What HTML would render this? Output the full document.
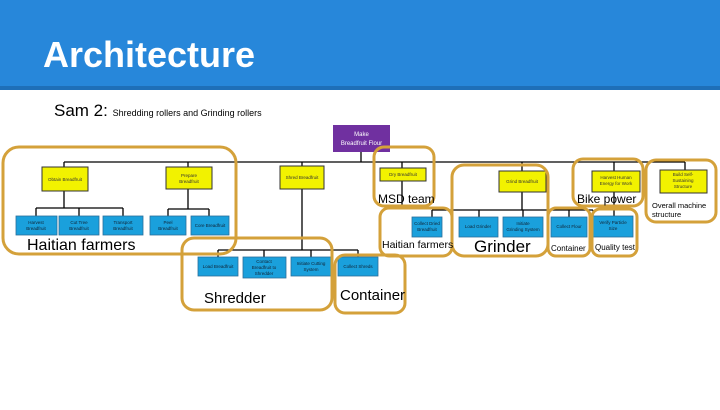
<!DOCTYPE html>
<html><head><meta charset="utf-8"><style>
body{margin:0;width:720px;height:405px;overflow:hidden;background:#fff;font-family:"Liberation Sans",sans-serif;}
</style></head><body>
<svg width="720" height="405" xmlns="http://www.w3.org/2000/svg" font-family="Liberation Sans, sans-serif">
<rect x="0" y="0" width="720" height="86" fill="#2787da"/>
<rect x="0" y="86" width="720" height="4" fill="#1e6fb8"/>
<text x="43" y="67" font-size="36" font-weight="bold" fill="#fff">Architecture</text>
<text x="54" y="116" font-size="17" fill="#000">Sam 2: <tspan font-size="9">Shredding rollers and Grinding rollers</tspan></text>

<g stroke="#000" stroke-width="1.3" fill="none">
<path d="M361 152V162M64 162H685"/>
<path d="M64 162V167M188 162V167M302 162V166M402 162V168M522 162V171M614 162V171M685 162V170"/>
<path d="M64 191V208M36 208H123M36 208V216M79 208V216M123 208V216"/>
<path d="M188 189V209M168 209H209M168 209V216M209 209V216"/>
<path d="M302 189V250M218 250H358M218 250V257M264 250V257M311 250V257M358 250V257"/>
<path d="M402 181V205M522 192V210M432 210H593M432 210V217M479 210V217M523 210V217M569 210V217M593 210V217"/>
<path d="M614 192V216"/>
</g>

<rect x="333" y="125" width="57" height="27" fill="#7030a0"/>
<text x="361.5" y="136" font-size="6" fill="#fff" text-anchor="middle">Make</text>
<text x="361.5" y="145" font-size="6" fill="#fff" text-anchor="middle">Breadfruit Flour</text>

<g fill="#f2f200" stroke="#333" stroke-width="1">
<rect x="42" y="167" width="46" height="24"/>
<rect x="166" y="167" width="46" height="22"/>
<rect x="280" y="166" width="44" height="23"/>
<rect x="380" y="168" width="46" height="13"/>
<rect x="499" y="171" width="47" height="21"/>
<rect x="592" y="171" width="48" height="21"/>
<rect x="660" y="170" width="47" height="23"/>
</g>
<g font-size="4.5" fill="#333" text-anchor="middle">
<text x="65" y="181">Obtain Breadfruit</text>
<text x="189" y="177">Prepare</text><text x="189" y="183">Breadfruit</text>
<text x="302" y="179">Shred Breadfruit</text>
<text x="403" y="176">Dry Breadfruit</text>
<text x="522" y="183">Grind Breadfruit</text>
<text x="616" y="179">Harvest Human</text><text x="616" y="185">Energy for Work</text>
<text x="683" y="176">Build Self-</text><text x="683" y="182">Sustaining</text><text x="683" y="188">Structure</text>
</g>

<g fill="#1aa0dc" stroke="#2a6f9a" stroke-width="0.8">
<rect x="16" y="216" width="41" height="19"/>
<rect x="59" y="216" width="40" height="19"/>
<rect x="103" y="216" width="40" height="19"/>
<rect x="150" y="216" width="36" height="19"/>
<rect x="191" y="216" width="38" height="19"/>
<rect x="198" y="257" width="40" height="19"/>
<rect x="243" y="257" width="43" height="21"/>
<rect x="291" y="257" width="40" height="19"/>
<rect x="338" y="257" width="40" height="19"/>
<rect x="412" y="217" width="30" height="20"/>
<rect x="459" y="217" width="39" height="20"/>
<rect x="503" y="217" width="40" height="20"/>
<rect x="551" y="217" width="36" height="20"/>
<rect x="593" y="216" width="40" height="21"/>
</g>
<g font-size="4.5" fill="#123" text-anchor="middle">
<text x="36" y="224">Harvest</text><text x="36" y="230">Breadfruit</text>
<text x="79" y="224">Cut Tree</text><text x="79" y="230">Breadfruit</text>
<text x="123" y="224">Transport</text><text x="123" y="230">Breadfruit</text>
<text x="168" y="224">Peel</text><text x="168" y="230">Breadfruit</text>
<text x="210" y="227">Core Breadfruit</text>
<text x="218" y="268">Load Breadfruit</text>
<text x="264" y="263">Contact</text><text x="264" y="269">Breadfruit to</text><text x="264" y="275">Shredder</text>
<text x="311" y="265">Initiate Cutting</text><text x="311" y="271">System</text>
<text x="358" y="268">Collect Shreds</text>
<text x="427" y="225">Collect Dried</text><text x="427" y="231">Breadfruit</text>
<text x="478" y="228">Load Grinder</text>
<text x="523" y="225">Initiate</text><text x="523" y="231">Grinding System</text>
<text x="569" y="228">Collect Flour</text>
<text x="613" y="224">Verify Particle</text><text x="613" y="230">Size</text>
</g>

<g fill="none" stroke="#d4a13a" stroke-width="3">
<rect x="3" y="147" width="233" height="107" rx="16"/>
<rect x="182" y="238" width="150" height="72" rx="12"/>
<rect x="335" y="255" width="70" height="58" rx="10"/>
<rect x="374" y="147" width="60" height="59" rx="10"/>
<rect x="380" y="208" width="72" height="48" rx="9"/>
<rect x="452" y="165" width="96" height="91" rx="12"/>
<rect x="548" y="208" width="42" height="48" rx="8"/>
<rect x="592" y="209" width="45" height="47" rx="8"/>
<rect x="573" y="159" width="70" height="47" rx="10"/>
<rect x="646" y="160" width="70" height="62" rx="10"/>
</g>
<g fill="#000">
<text x="27" y="250" font-size="16">Haitian farmers</text>
<text x="204" y="303" font-size="15">Shredder</text>
<text x="340" y="300" font-size="15">Container</text>
<text x="378" y="203" font-size="12">MSD team</text>
<text x="382" y="248" font-size="10.5">Haitian farmers</text>
<text x="474" y="252" font-size="17">Grinder</text>
<text x="551" y="251" font-size="8">Container</text>
<text x="595" y="250" font-size="8">Quality test</text>
<text x="577" y="203" font-size="12">Bike power</text>
<text x="652" y="208" font-size="7.5">Overall machine</text>
<text x="652" y="217" font-size="7.5">structure</text>
</g>
</svg>
</body></html>
